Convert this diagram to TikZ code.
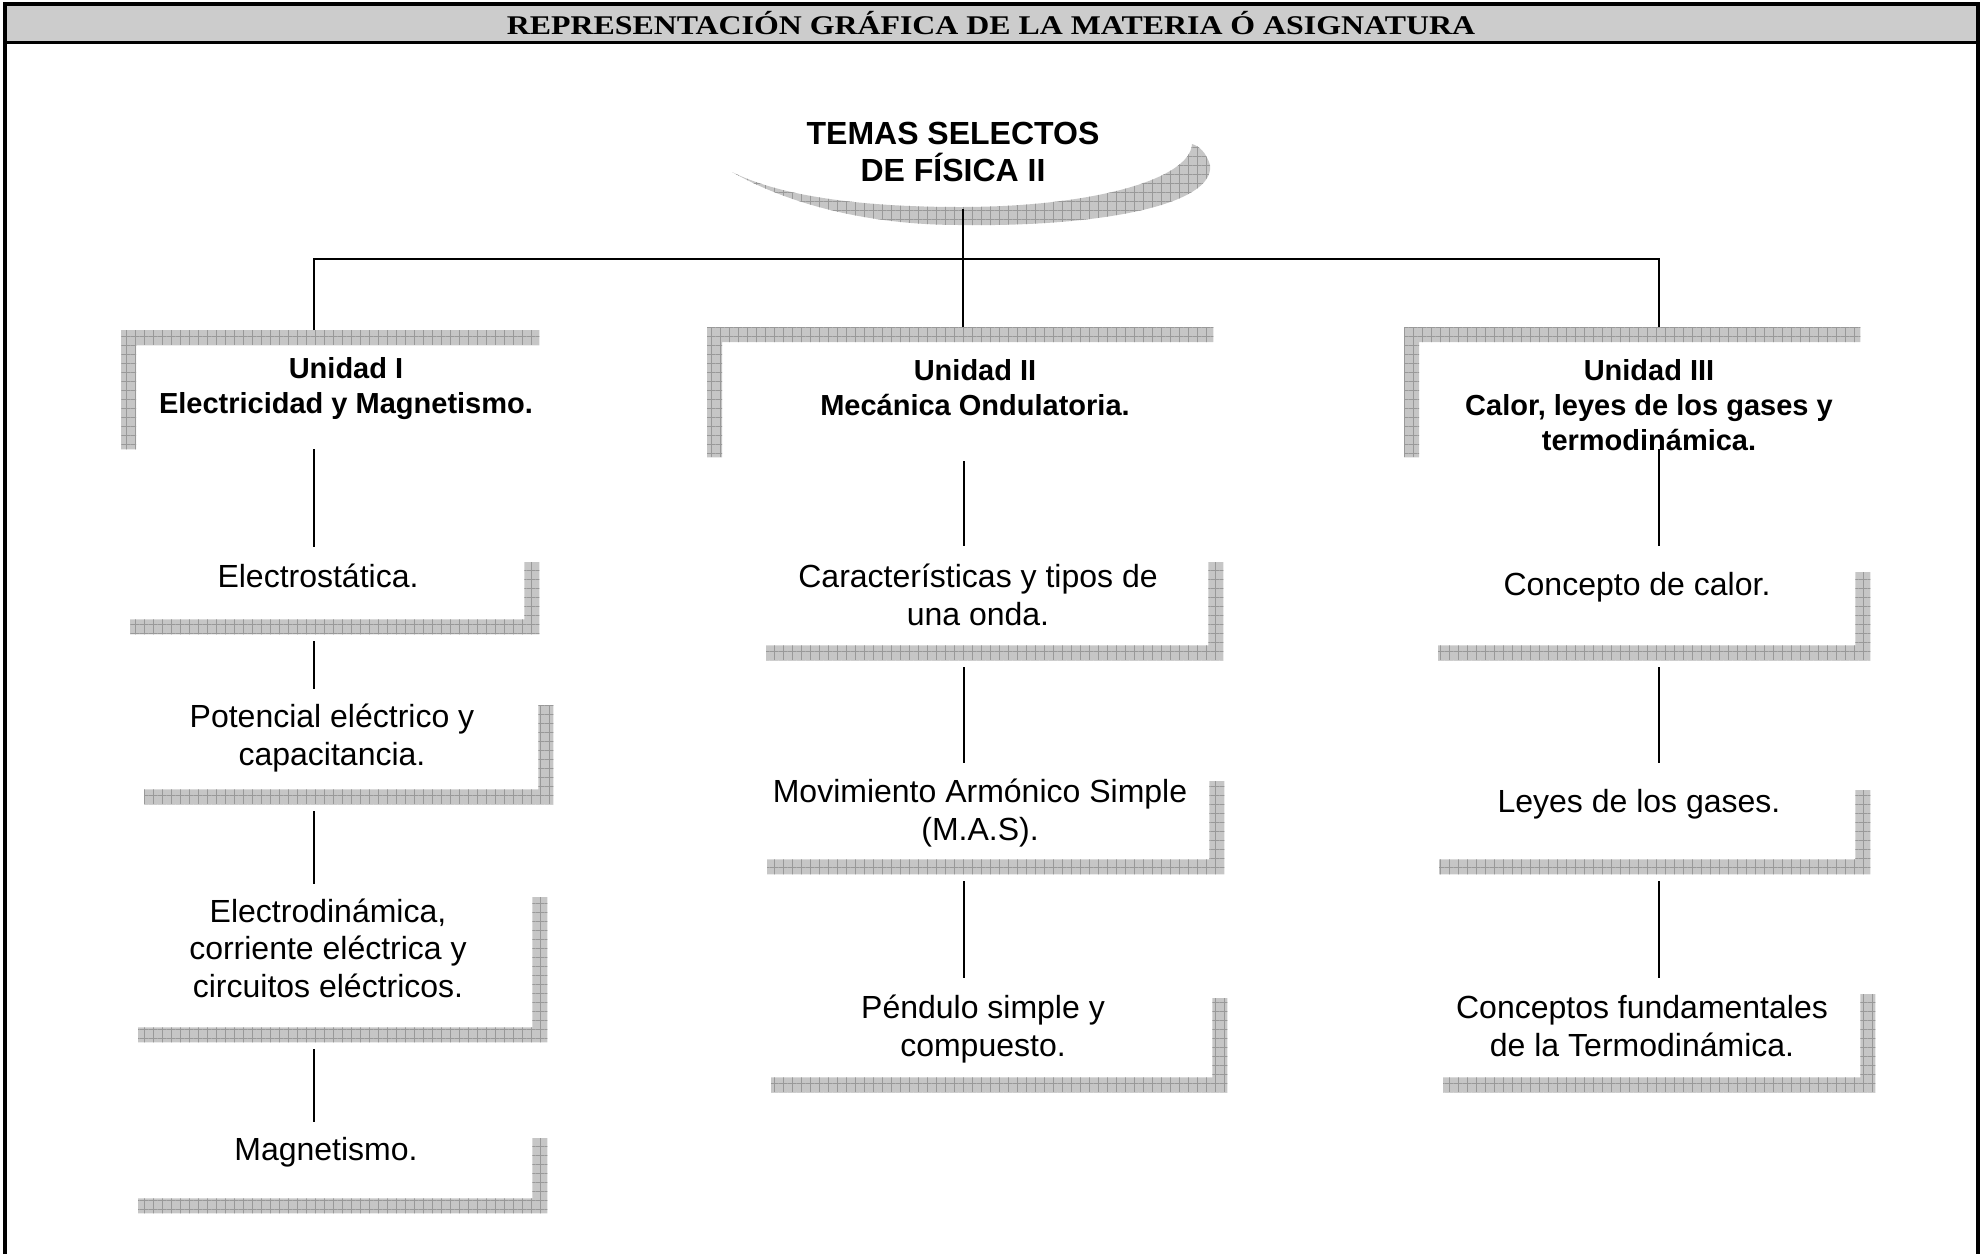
\documentclass[tikz,border=0pt]{standalone}
\usepackage{fontspec}
\setmainfont{Liberation Sans}
\newfontfamily\headfont{Liberation Serif}
\usetikzlibrary{patterns.meta}
\tikzset{
  hatch/.style={
    fill=gray!45,
    postaction={pattern={Hatch[angle=0, distance=9pt, line width=0.8pt]}, pattern color=gray!80}
  },
  frame/.style={rectangle, inner sep=0pt, anchor=north west},
  unit/.style={align=center, font=\fontsize{29}{35}\selectfont\bfseries},
  topic/.style={align=center, font=\fontsize{32}{37.5}\selectfont},
  tree/.style={line width=2pt},
  link/.style={line width=2pt, shorten <=7pt, shorten >=16pt}
}
% bar on top and on the left
\def\unitbars#1{\fill[hatch] (#1.south west) -- (#1.north west) -- (#1.north east) -- ([yshift=-15pt]#1.north east) -- ([xshift=15pt, yshift=-15pt]#1.north west) -- ([xshift=15pt]#1.south west) -- cycle;}
% bar on the right and at the bottom
\def\topicbars#1{\fill[hatch] (#1.north east) -- (#1.south east) -- (#1.south west) -- ([yshift=15pt]#1.south west) -- ([xshift=-15pt, yshift=15pt]#1.south east) -- ([xshift=-15pt]#1.north east) -- cycle;}

\begin{document}
\begin{tikzpicture}[x=1pt, y=-1pt]
    \useasboundingbox (0,0) rectangle (1981,1254);
    % frame and heading
    \fill[gray!40] (5,4) rectangle (1978,42);
    \draw[line width=3.5pt] (5,1254) -- (5,4) -- (1978,4) -- (1978,1254);
    \draw[line width=3pt] (5,42) -- (1978,42);
    \node (head) at (991,23) {\headfont\bfseries\fontsize{27}{29}\selectfont\scalebox{1.18}[1]{REPRESENTACIÓN GRÁFICA DE LA MATERIA Ó ASIGNATURA}};

    % title
    \fill[hatch] (732,172) .. controls (790,205) and (870,225) .. (960,225) .. controls (1100,227) and (1215,205) .. (1210,165) .. controls (1206,152) and (1199,146) .. (1192,144) .. controls (1190,180) and (1090,207) .. (960,207) .. controls (860,207) and (780,196) .. (732,172) -- cycle;
    \node[align=center, font=\fontsize{32}{37}\selectfont\bfseries] (title) at (953,152) {TEMAS SELECTOS\\DE FÍSICA II};

    % brackets
    \node[frame, minimum width=418, minimum height=119] (f1) at (121,330) {};
    \node[frame, minimum width=506, minimum height=130] (f2) at (707,327) {};
    \node[frame, minimum width=456, minimum height=130] (f3) at (1404,327) {};
    \node[frame, minimum width=409, minimum height=72] (g1) at (130,562) {};
    \node[frame, minimum width=409, minimum height=99] (g2) at (144,705) {};
    \node[frame, minimum width=409, minimum height=145] (g3) at (138,897) {};
    \node[frame, minimum width=409, minimum height=75] (g4) at (138,1138) {};
    \node[frame, minimum width=457, minimum height=98] (g5) at (766,562) {};
    \node[frame, minimum width=457, minimum height=93] (g6) at (767,781) {};
    \node[frame, minimum width=456, minimum height=94] (g7) at (771,998) {};
    \node[frame, minimum width=432, minimum height=88] (g8) at (1438,572) {};
    \node[frame, minimum width=431, minimum height=84] (g9) at (1439,790) {};
    \node[frame, minimum width=432, minimum height=98] (g10) at (1443,994) {};
    \unitbars{f1} \unitbars{f2} \unitbars{f3}
    \topicbars{g1} \topicbars{g2} \topicbars{g3} \topicbars{g4}
    \topicbars{g5} \topicbars{g6} \topicbars{g7}
    \topicbars{g8} \topicbars{g9} \topicbars{g10}

    % texts
    \node[unit] (u1) at (346,389) {Unidad I\\Electricidad y Magnetismo.};
    \node[unit] (u2) at (975,388) {Unidad II\\Mecánica Ondulatoria.};
    \node[unit] (u3) at (1649,405) {Unidad III\\Calor, leyes de los gases y\\termodinámica.};
    \node[topic] (t1) at (318,576) {Electrostática.};
    \node[topic] (t2) at (332,738) {Potencial eléctrico y\\capacitancia.};
    \node[topic] (t3) at (328,948) {Electrodinámica,\\corriente eléctrica y\\circuitos eléctricos.};
    \node[topic] (t4) at (326,1152) {Magnetismo.};
    \node[topic] (t5) at (978,595) {Características y tipos de\\una onda.};
    \node[topic] (t6) at (980,813) {Movimiento Armónico Simple\\(M.A.S).};
    \node[topic] (t7) at (983,1029) {Péndulo simple y\\compuesto.};
    \node[topic] (t8) at (1637,587) {Concepto de calor.};
    \node[topic] (t9) at (1639,804) {Leyes de los gases.};
    \node[topic] (t10) at (1642,1026) {Conceptos fundamentales\\de la Termodinámica.};

    % connectors
    \coordinate (colA) at (314,0);
    \coordinate (colB) at (963.5,0);
    \coordinate (colC) at (1659,0);
    \coordinate (split) at (963,259);
    \draw[tree] ([yshift=-24pt]title.south -| split) -- (f2.north -| split);
    \draw[tree] (f1.north -| colA) -- (split -| colA) -- (split -| colC) -- (f3.north -| colC);
    \draw[link, shorten <=0pt, shorten >=15pt] (f1.south -| colA) -- (g1.north -| colA);
    \draw[link] (g1.south -| colA) -- (g2.north -| colA);
    \draw[link, shorten >=13pt] (g2.south -| colA) -- (g3.north -| colA);
    \draw[link] (g3.south -| colA) -- (g4.north -| colA);
    \draw[link, shorten <=4pt] (f2.south -| colB) -- (g5.north -| colB);
    \draw[link, shorten >=18pt] (g5.south -| colB) -- (g6.north -| colB);
    \draw[link, shorten >=20pt] (g6.south -| colB) -- (g7.north -| colB);
    \draw[link, shorten <=-8pt, shorten >=26pt] (f3.south -| colC) -- (g8.north -| colC);
    \draw[link, shorten >=27pt] (g8.south -| colC) -- (g9.north -| colC);
    \draw[link] (g9.south -| colC) -- (g10.north -| colC);
\end{tikzpicture}
\end{document}
